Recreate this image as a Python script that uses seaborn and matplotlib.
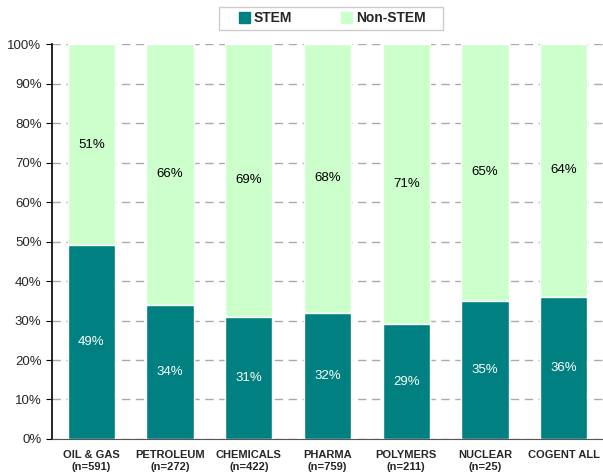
import pandas as pd
import matplotlib
matplotlib.use("Agg")
import matplotlib.pyplot as plt
import matplotlib.patches as mpatches
import seaborn as sns

#----------------------------------------------------
# DATA
#----------------------------------------------------

categories = ["OIL & GAS\n(n=591)", "PETROLEUM\n(n=272)", "CHEMICALS\n(n=422)",
              "PHARMA\n(n=759)", "POLYMERS\n(n=211)", "NUCLEAR\n(n=25)", "COGENT ALL"]
stem_pct = [49, 34, 31, 32, 29, 35, 36]
non_stem_pct = [51, 66, 69, 68, 71, 65, 64]
y_ticks = [0, 10, 20, 30, 40, 50, 60, 70, 80, 90, 100]

STEM_COLOR = "#008080"
NON_STEM_COLOR = "#CCFFCC"

#----------------------------------------------------
# PLOT
#----------------------------------------------------

def main():
    sns.set_style("white")
    plt.rcParams["font.family"] = ["Liberation Sans", "DejaVu Sans"]

    my_df = pd.DataFrame({"category": categories, "stem": stem_pct, "non_stem": non_stem_pct})
    my_df["total"] = my_df["stem"] + my_df["non_stem"]

    my_fig = plt.figure(figsize=(6.03, 4.73), dpi=100)
    ax = my_fig.add_axes([0.0862, 0.0719, 0.9138, 0.835])

    # stacked: full bar in light green, STEM part on top in teal
    sns.barplot(data=my_df, x="category", y="total", color=NON_STEM_COLOR, width=0.6,
                saturation=1, ax=ax, zorder=2)
    sns.barplot(data=my_df, x="category", y="stem", color=STEM_COLOR, width=0.6,
                saturation=1, ax=ax, zorder=3)

    # value labels
    for i, (s, n) in enumerate(zip(stem_pct, non_stem_pct)):
        ax.text(i, s / 2, f"{s}%", ha="center", va="center", color="white", fontsize=9.5, zorder=4)
        ax.text(i, s + n / 2, f"{n}%", ha="center", va="center", color="black", fontsize=9.5, zorder=4)

    ax.set_ylim(0, 100)
    ax.set_xlim(-0.5, len(categories) - 0.5)
    ax.set_yticks(y_ticks)
    ax.set_yticklabels([f"{t}%" for t in y_ticks], fontsize=9.5)
    ax.yaxis.grid(True, linestyle=(0, (6, 4)), color="#AAAAAA", linewidth=1, zorder=0)
    ax.set_axisbelow(True)
    ax.set_xlabel("")
    ax.set_ylabel("")

    ax.set_xticks(range(len(categories)))
    ax.set_xticklabels(categories, fontsize=8, fontweight="bold")
    ax.tick_params(axis="x", which="major", length=0, pad=8)
    ax.set_xticks([i - 0.5 for i in range(len(categories) + 1)], minor=True)
    ax.tick_params(axis="x", which="minor", length=4, color="#555555", direction="out")
    ax.tick_params(axis="y", length=4, color="black", direction="out", left=True)

    for side in ["top", "right"]:
        ax.spines[side].set_visible(False)
    ax.spines["left"].set_color("black")
    ax.spines["left"].set_linewidth(1.2)
    ax.spines["bottom"].set_color("#555555")

    # legend box drawn by hand so the padding matches
    my_fig.patches.append(mpatches.Rectangle((0.3632, 0.9366), 0.3715, 0.0486,
                                             transform=my_fig.transFigure, facecolor="white",
                                             edgecolor="#CCCCCC", linewidth=1))
    handles = [mpatches.Patch(color=STEM_COLOR, label="STEM"),
               mpatches.Patch(color=NON_STEM_COLOR, label="Non-STEM")]
    my_fig.legend(handles=handles, ncol=2, loc="center", bbox_to_anchor=(0.551, 0.961),
                  frameon=False, handlelength=0.8, handleheight=0.8,
                  columnspacing=3.5, handletextpad=0.3, borderpad=0.3,
                  prop={"weight": "bold", "size": 10})

    my_fig.savefig("out.png", dpi=100)


if __name__ == '__main__':
    main()
